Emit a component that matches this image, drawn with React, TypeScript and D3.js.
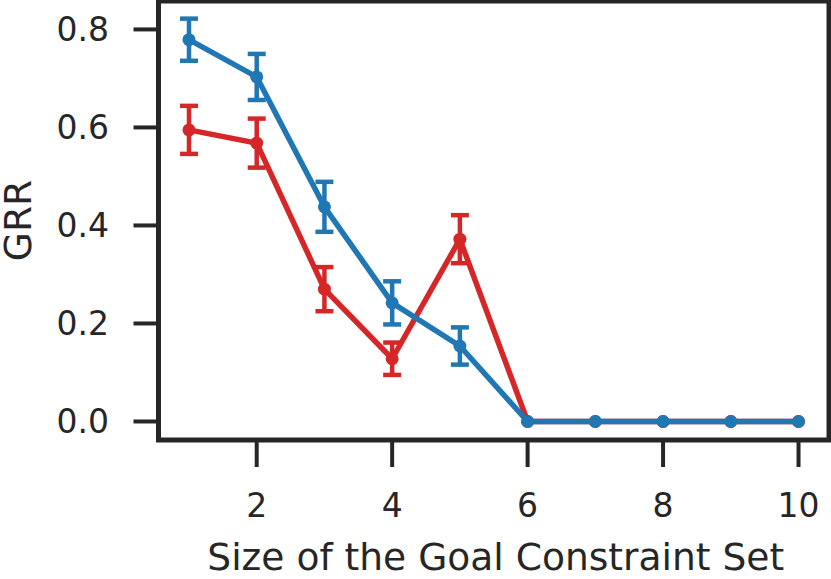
import * as d3 from "d3";
import { useEffect, useRef } from "react";

const sizes = [1, 2, 3, 4, 5, 6, 7, 8, 9, 10];
const blueMean = [0.779, 0.703, 0.438, 0.242, 0.154, 0, 0, 0, 0, 0];
const blueErr = [0.043, 0.047, 0.051, 0.044, 0.038, 0, 0, 0, 0, 0];
const redMean = [0.595, 0.568, 0.27, 0.128, 0.372, 0, 0, 0, 0, 0];
const redErr = [0.049, 0.05, 0.045, 0.033, 0.049, 0, 0, 0, 0, 0];
const xTicks = [2, 4, 6, 8, 10];
const yTicks = [0, 0.2, 0.4, 0.6, 0.8];

const BLUE = "#1f77b4";
const RED = "#d62728";
const INK = "#262626";

interface Pt {
  x: number;
  y: number;
  e: number;
}

const App = () => {
  const ref = useRef<SVGSVGElement | null>(null);

  useEffect(() => {
    const svg = d3.select(ref.current);
    svg.selectAll("*").remove();

    const width = 831;
    const height = 579;
    const left = 158.5;
    const right = 829;
    const top = 1;
    const bottom = 440;

    const x = d3.scaleLinear().domain([0.55, 10.45]).range([left, right]);
    const y = d3.scaleLinear().domain([-0.0378, 0.858]).range([bottom, top]);

    const font = "'DejaVu Sans', sans-serif";

    // ticks
    svg
      .append("g")
      .selectAll("line")
      .data(yTicks)
      .enter()
      .append("line")
      .attr("x1", left - 25)
      .attr("x2", left)
      .attr("y1", (d) => y(d))
      .attr("y2", (d) => y(d))
      .attr("stroke", INK)
      .attr("stroke-width", 4);

    svg
      .append("g")
      .selectAll("text")
      .data(yTicks)
      .enter()
      .append("text")
      .attr("x", 109)
      .attr("y", (d) => y(d))
      .attr("dy", "0.36em")
      .attr("text-anchor", "end")
      .style("font-family", font)
      .style("font-size", "33px")
      .attr("fill", INK)
      .text((d) => d3.format(".1f")(d));

    svg
      .append("g")
      .selectAll("line")
      .data(xTicks)
      .enter()
      .append("line")
      .attr("x1", (d) => x(d))
      .attr("x2", (d) => x(d))
      .attr("y1", bottom)
      .attr("y2", bottom + 27)
      .attr("stroke", INK)
      .attr("stroke-width", 4);

    svg
      .append("g")
      .selectAll("text")
      .data(xTicks)
      .enter()
      .append("text")
      .attr("x", (d) => x(d))
      .attr("y", 517)
      .attr("text-anchor", "middle")
      .style("font-family", font)
      .style("font-size", "33px")
      .attr("fill", INK)
      .text((d) => String(d));

    // axis labels
    svg
      .append("text")
      .attr("x", (left + right) / 2 + 2)
      .attr("y", 570)
      .attr("text-anchor", "middle")
      .style("font-family", font)
      .style("font-size", "37.6px")
      .attr("fill", INK)
      .text("Size of the Goal Constraint Set");

    svg
      .append("text")
      .attr("transform", `translate(30.5, ${(top + bottom) / 2}) rotate(-90)`)
      .attr("text-anchor", "middle")
      .style("font-family", font)
      .style("font-size", "37.6px")
      .attr("fill", INK)
      .text("GRR");

    const line = d3
      .line<Pt>()
      .x((d) => x(d.x))
      .y((d) => y(d.y));

    const drawSeries = (means: number[], errs: number[], color: string) => {
      const pts: Pt[] = sizes.map((s, i) => ({ x: s, y: means[i], e: errs[i] }));
      const g = svg.append("g");
      g.append("path")
        .datum(pts)
        .attr("d", line)
        .attr("fill", "none")
        .attr("stroke", color)
        .attr("stroke-width", 5.5)
        .attr("stroke-linejoin", "round");

      const bars = pts.filter((d) => d.e > 0);
      g.selectAll("line.err")
        .data(bars)
        .enter()
        .append("line")
        .attr("class", "err")
        .attr("x1", (d) => x(d.x))
        .attr("x2", (d) => x(d.x))
        .attr("y1", (d) => y(d.y - d.e))
        .attr("y2", (d) => y(d.y + d.e))
        .attr("stroke", color)
        .attr("stroke-width", 4.5);
      [-1, 1].forEach((s) => {
        g.selectAll(`line.cap${s}`)
          .data(bars)
          .enter()
          .append("line")
          .attr("x1", (d) => x(d.x) - 9)
          .attr("x2", (d) => x(d.x) + 9)
          .attr("y1", (d) => y(d.y + s * d.e))
          .attr("y2", (d) => y(d.y + s * d.e))
          .attr("stroke", color)
          .attr("stroke-width", 4.5);
      });

      g.selectAll("circle")
        .data(pts)
        .enter()
        .append("circle")
        .attr("cx", (d) => x(d.x))
        .attr("cy", (d) => y(d.y))
        .attr("r", 6.5)
        .attr("fill", color);
    };

    drawSeries(redMean, redErr, RED);
    drawSeries(blueMean, blueErr, BLUE);

    // frame
    svg
      .append("rect")
      .attr("x", left)
      .attr("y", top)
      .attr("width", right - left)
      .attr("height", bottom - top)
      .attr("fill", "none")
      .attr("stroke", INK)
      .attr("stroke-width", 5);

    svg.attr("width", width).attr("height", height);
  }, []);

  return (
    <div style={{ position: "fixed", left: 0, top: 0, background: "#fff" }}>
      <svg ref={ref} style={{ display: "block" }}></svg>
    </div>
  );
};

export default App;
